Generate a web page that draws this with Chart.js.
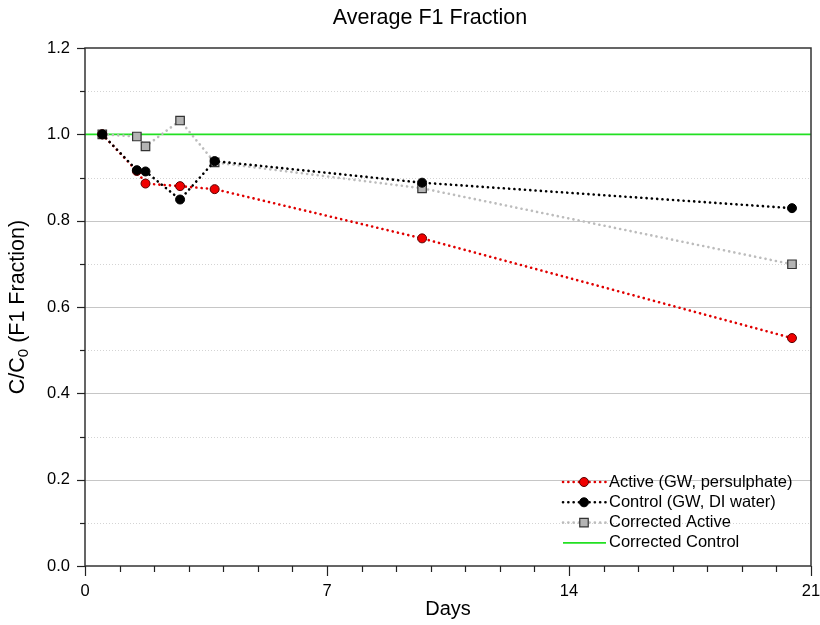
<!DOCTYPE html>
<html lang="en">
<head>
  <meta charset="UTF-8" />
  <title>Average F1 Fraction</title>
  <script src="https://cdn.jsdelivr.net/npm/chart.js"></script>
  <style>
    html, body { margin: 0; padding: 0; background: #ffffff; }
    #wrap { width: 820px; height: 625px; position: relative; }
  </style>
</head>
<body>
  <div id="wrap"><canvas id="chart"></canvas></div>
  <script>
    // sampling days and C/C0 values
    const days = [0.5, 1.5, 1.75, 2.75, 3.75, 9.75, 20.45];
    const active = [1.0, 0.915, 0.886, 0.880, 0.873, 0.759, 0.528];
    const control = [1.0, 0.917, 0.914, 0.849, 0.938, 0.888, 0.829];
    const correctedActive = [1.0, 0.995, 0.972, 1.032, 0.935, 0.875, 0.699];
    const controlLineDays = [0, 21];
    const correctedControl = [1.0, 1.0];

    const xLabelTicks = [0, 7, 14, 21];
    const yLabelTicks = [0, 0.2, 0.4, 0.6, 0.8, 1.0, 1.2];
    const yMajorGrid = [0.2, 0.4, 0.6, 0.8];
    const yMinorGrid = [0.1, 0.3, 0.5, 0.7, 0.9, 1.1];

    const FONT = "'Liberation Sans', Arial, sans-serif";
    const pts = (xs, ys) => xs.map((d, i) => ({ x: d, y: ys[i] }));
    const dotted = { borderWidth: 2.6, borderCapStyle: "round", borderDash: [0.1, 5.2] };

    const datasets = [
      { label: "Active (GW, persulphate)", data: pts(days, active), borderColor: "#e00000",
        pointBackgroundColor: "#f00000", pointBorderColor: "#5a0000", pointBorderWidth: 1,
        pointRadius: 4.5, pointStyle: "circle", order: 1, ...dotted },
      { label: "Control (GW, DI water)", data: pts(days, control), borderColor: "#000000",
        pointBackgroundColor: "#000000", pointBorderColor: "#000000", pointBorderWidth: 1,
        pointRadius: 4.5, pointStyle: "circle", order: 0, ...dotted },
      { label: "Corrected Active", data: pts(days, correctedActive), borderColor: "#bcbcbc",
        pointBackgroundColor: "#b4b4b4", pointBorderColor: "#333333", pointBorderWidth: 1.2,
        pointRadius: 6, pointStyle: "rect", order: 2, ...dotted },
      { label: "Corrected Control", data: pts(controlLineDays, correctedControl), borderColor: "#22e022",
        borderWidth: 1.6, pointRadius: 0, order: 3 }
    ];

    const decor = {
      id: "decor",
      beforeDatasetsDraw(chart) {
        const { ctx, chartArea: a, scales: { y } } = chart;
        ctx.save();
        ctx.lineWidth = 1;
        ctx.strokeStyle = "#d4d4d4";
        ctx.setLineDash([1, 2]);
        yMinorGrid.forEach(v => {
          const py = Math.round(y.getPixelForValue(v)) + 0.5;
          ctx.beginPath(); ctx.moveTo(a.left, py); ctx.lineTo(a.right, py); ctx.stroke();
        });
        ctx.setLineDash([]);
        ctx.strokeStyle = "#c6c6c6";
        yMajorGrid.forEach(v => {
          const py = Math.round(y.getPixelForValue(v)) + 0.5;
          ctx.beginPath(); ctx.moveTo(a.left, py); ctx.lineTo(a.right, py); ctx.stroke();
        });
        ctx.restore();
      },
      afterDraw(chart) {
        const { ctx, chartArea: a, scales: { x, y } } = chart;
        ctx.save();

        // frame
        ctx.strokeStyle = "#333333";
        ctx.lineWidth = 1.5;
        ctx.strokeRect(a.left, a.top, a.right - a.left, a.bottom - a.top);

        // tick marks
        ctx.lineWidth = 1.2;
        ctx.strokeStyle = "#222222";
        for (let d = 0; d <= 21; d++) {
          const px = Math.round(x.getPixelForValue(d)) + 0.5;
          const len = xLabelTicks.includes(d) ? 10 : 6;
          ctx.beginPath(); ctx.moveTo(px, a.bottom); ctx.lineTo(px, a.bottom + len); ctx.stroke();
        }
        for (let i = 0; i <= 12; i++) {
          const v = i / 10;
          const py = Math.round(y.getPixelForValue(v)) + 0.5;
          const len = i % 2 === 0 ? 8 : 5;
          ctx.beginPath(); ctx.moveTo(a.left - len, py); ctx.lineTo(a.left, py); ctx.stroke();
        }

        // titles
        ctx.fillStyle = "#000000";
        ctx.textBaseline = "middle";
        ctx.textAlign = "center";
        ctx.font = "21.5px " + FONT;
        ctx.fillText("Average F1 Fraction", 430, 18);
        ctx.font = "20px " + FONT;
        ctx.fillText("Days", (a.left + a.right) / 2, 609);

        // y title with subscript
        ctx.save();
        ctx.translate(18, (a.top + a.bottom) / 2);
        ctx.rotate(-Math.PI / 2);
        ctx.textAlign = "left";
        const p1 = "C/C", sub = "0", p2 = " (F1 Fraction)";
        ctx.font = "21.5px " + FONT;
        const w1 = ctx.measureText(p1).width, w3 = ctx.measureText(p2).width;
        ctx.font = "15px " + FONT;
        const w2 = ctx.measureText(sub).width;
        let sx = -(w1 + w2 + w3) / 2;
        ctx.font = "21.5px " + FONT;
        ctx.fillText(p1, sx, 0); sx += w1;
        ctx.font = "15px " + FONT;
        ctx.fillText(sub, sx, 6); sx += w2;
        ctx.font = "21.5px " + FONT;
        ctx.fillText(p2, sx, 0);
        ctx.restore();

        // legend inside plot, bottom right
        ctx.font = "16.5px " + FONT;
        ctx.textAlign = "left";
        datasets.forEach((ds, i) => {
          const cy = 482 + i * 20.3;
          ctx.save();
          ctx.strokeStyle = ds.borderColor;
          ctx.lineWidth = ds.borderWidth;
          ctx.lineCap = ds.borderCapStyle || "butt";
          ctx.setLineDash(ds.borderDash || []);
          ctx.beginPath(); ctx.moveTo(563, cy); ctx.lineTo(606, cy); ctx.stroke();
          ctx.restore();
          if (ds.pointRadius) {
            ctx.save();
            ctx.fillStyle = ds.pointBackgroundColor;
            ctx.strokeStyle = ds.pointBorderColor;
            ctx.lineWidth = ds.pointBorderWidth;
            ctx.beginPath();
            if (ds.pointStyle === "rect") {
              const s = ds.pointRadius * Math.SQRT1_2;
              ctx.rect(584 - s, cy - s, 2 * s, 2 * s);
            } else {
              ctx.arc(584, cy, ds.pointRadius, 0, Math.PI * 2);
            }
            ctx.fill(); ctx.stroke();
            ctx.restore();
          }
          ctx.fillStyle = "#000000";
          ctx.fillText(ds.label, 609, cy);
        });
        ctx.restore();
      }
    };

    new Chart(document.getElementById("chart"), {
      type: "line",
      data: { datasets },
      options: {
        responsive: true,
        maintainAspectRatio: false,
        devicePixelRatio: 1,
        animation: false,
        layout: { padding: { top: 48, right: 9, left: 0, bottom: 0 } },
        plugins: { legend: { display: false }, tooltip: { enabled: false } },
        elements: { line: { tension: 0, fill: false } },
        scales: {
          x: {
            type: "linear", min: 0, max: 21,
            afterFit: s => { s.height = 59; s.paddingLeft = 0; s.paddingRight = 0; },
            grid: { display: false, drawTicks: false },
            border: { display: false },
            ticks: {
              stepSize: 1, autoSkip: false, maxRotation: 0, padding: 16,
              color: "#000000", font: { size: 16.5, family: FONT },
              callback: v => xLabelTicks.includes(v) ? String(v) : ""
            }
          },
          y: {
            min: 0, max: 1.2,
            afterFit: s => { s.width = 85; s.paddingTop = 0; s.paddingBottom = 0; },
            grid: { display: false, drawTicks: false },
            border: { display: false },
            ticks: {
              stepSize: 0.1, autoSkip: false, padding: 15,
              color: "#000000", font: { size: 16.5, family: FONT },
              callback: v => {
                const r = Math.round(v * 10) / 10;
                return yLabelTicks.some(t => Math.abs(t - r) < 1e-9) ? r.toFixed(1) : "";
              }
            }
          }
        }
      },
      plugins: [decor]
    });
  </script>
</body>
</html>
